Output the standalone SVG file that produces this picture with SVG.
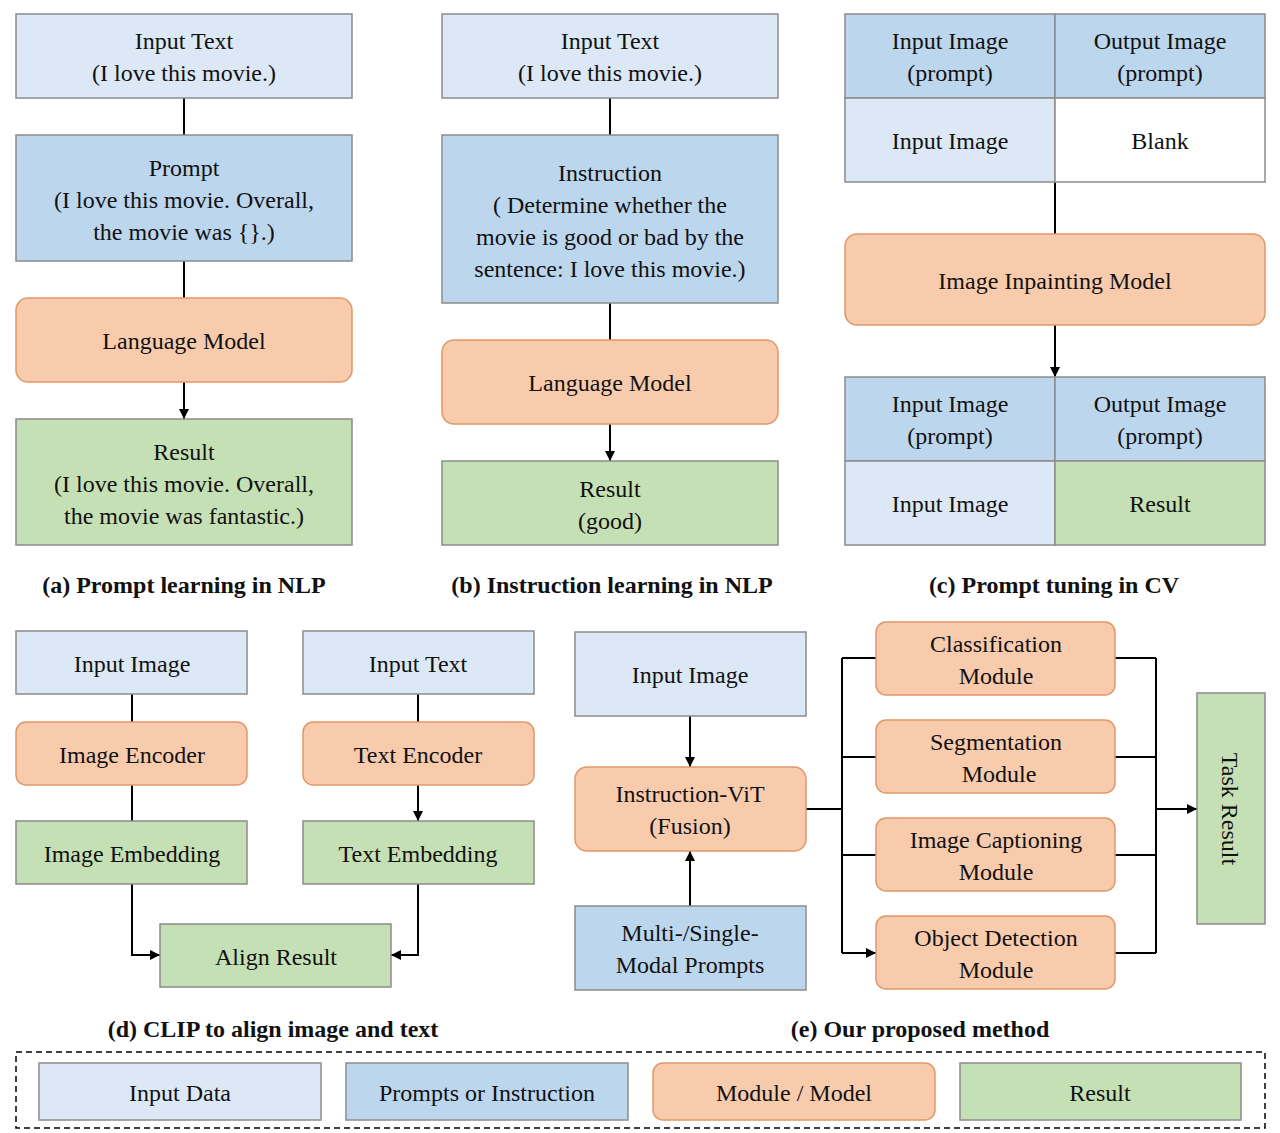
<svg xmlns="http://www.w3.org/2000/svg" width="1280" height="1133" viewBox="0 0 1280 1133">
<defs>
<style>
text{font-family:"Liberation Serif","Times New Roman",serif;font-size:24px;fill:#111;text-anchor:middle}
.cap{font-weight:bold;font-size:24px}
.in{fill:#dce8f5;stroke:#8c8c8c;stroke-width:1.5}
.pr{fill:#bcd6ee;stroke:#8c8c8c;stroke-width:1.5}
.md{fill:#f8cbad;stroke:#e0986a;stroke-width:1.5}
.rs{fill:#c5e0b4;stroke:#8c8c8c;stroke-width:1.5}
.wh{fill:#fff;stroke:#8c8c8c;stroke-width:1.5}
.ln{fill:none;stroke:#000;stroke-width:2}
</style>
<marker id="ar" viewBox="0 0 10 10" refX="10" refY="5" markerWidth="5" markerHeight="5" orient="auto"><path d="M0,0L10,5L0,10z" fill="#000"/></marker>
</defs>
<rect width="1280" height="1133" fill="#fff"/>
<g id="connectors">
<path class="ln" marker-end="url(#ar)" d="M184,98V135M184,261V298M184,382V419"/>
<path class="ln" marker-end="url(#ar)" d="M610,98V135M610,303V340M610,424V461"/>
<path class="ln" marker-end="url(#ar)" d="M1055,182V234M1055,325V377"/>
<path class="ln" marker-end="url(#ar)" d="M132,694V722M132,785V821M418,694V722M418,785V821"/>
<path class="ln" marker-end="url(#ar)" d="M132,884V955H160"/>
<path class="ln" marker-end="url(#ar)" d="M418,884V955H391"/>
<path class="ln" marker-end="url(#ar)" d="M690,716V767"/>
<path class="ln" marker-end="url(#ar)" d="M690,906V851"/>
<path class="ln" d="M806,809H842M842,658V953"/>
<path class="ln" marker-end="url(#ar)" d="M842,658H876M842,757H876M842,855H876M842,953H876"/>
<path class="ln" d="M1115,658H1156M1115,757H1156M1115,855H1156M1115,953H1156M1156,658V953"/>
<path class="ln" marker-end="url(#ar)" d="M1156,809H1197"/>
</g>
<g id="a">
<rect class="in" x="16" y="14" width="336" height="84"/><text x="184" y="49">Input Text</text><text x="184" y="81">(I love this movie.)</text>
<rect class="pr" x="16" y="135" width="336" height="126"/><text x="184" y="176">Prompt</text><text x="184" y="208">(I love this movie. Overall,</text><text x="184" y="240">the movie was {}.)</text>
<rect class="md" x="16" y="298" width="336" height="84" rx="12"/><text x="184" y="349">Language Model</text>
<rect class="rs" x="16" y="419" width="336" height="126"/><text x="184" y="460">Result</text><text x="184" y="492">(I love this movie. Overall,</text><text x="184" y="524">the movie was fantastic.)</text>
<text class="cap" x="184" y="593">(a) Prompt learning in NLP</text>
</g>
<g id="b">
<rect class="in" x="442" y="14" width="336" height="84"/><text x="610" y="49">Input Text</text><text x="610" y="81">(I love this movie.)</text>
<rect class="pr" x="442" y="135" width="336" height="168"/><text x="610" y="181">Instruction</text><text x="610" y="213">( Determine whether the</text><text x="610" y="245">movie is good or bad by the</text><text x="610" y="277">sentence: I love this movie.)</text>
<rect class="md" x="442" y="340" width="336" height="84" rx="12"/><text x="610" y="391">Language Model</text>
<rect class="rs" x="442" y="461" width="336" height="84"/><text x="610" y="497">Result</text><text x="610" y="529">(good)</text>
<text class="cap" x="612" y="593">(b) Instruction learning in NLP</text>
</g>
<g id="c">
<rect class="pr" x="845" y="14" width="210" height="84"/><rect class="pr" x="1055" y="14" width="210" height="84"/>
<rect class="in" x="845" y="98" width="210" height="84"/><rect class="wh" x="1055" y="98" width="210" height="84"/>
<text x="950" y="49">Input Image</text><text x="950" y="81">(prompt)</text><text x="1160" y="49">Output Image</text><text x="1160" y="81">(prompt)</text>
<text x="950" y="149">Input Image</text><text x="1160" y="149">Blank</text>
<rect class="md" x="845" y="234" width="420" height="91" rx="12"/><text x="1055" y="289">Image Inpainting Model</text>
<rect class="pr" x="845" y="377" width="210" height="84"/><rect class="pr" x="1055" y="377" width="210" height="84"/>
<rect class="in" x="845" y="461" width="210" height="84"/><rect class="rs" x="1055" y="461" width="210" height="84"/>
<text x="950" y="412">Input Image</text><text x="950" y="444">(prompt)</text><text x="1160" y="412">Output Image</text><text x="1160" y="444">(prompt)</text>
<text x="950" y="512">Input Image</text><text x="1160" y="512">Result</text>
<text class="cap" x="1054" y="593">(c) Prompt tuning in CV</text>
</g>
<g id="d">
<rect class="in" x="16" y="631" width="231" height="63"/><text x="132" y="672">Input Image</text>
<rect class="in" x="303" y="631" width="231" height="63"/><text x="418" y="672">Input Text</text>
<rect class="md" x="16" y="722" width="231" height="63" rx="10"/><text x="132" y="763">Image Encoder</text>
<rect class="md" x="303" y="722" width="231" height="63" rx="10"/><text x="418" y="763">Text Encoder</text>
<rect class="rs" x="16" y="821" width="231" height="63"/><text x="132" y="862">Image Embedding</text>
<rect class="rs" x="303" y="821" width="231" height="63"/><text x="418" y="862">Text Embedding</text>
<rect class="rs" x="160" y="924" width="231" height="63"/><text x="276" y="965">Align Result</text>
<text class="cap" x="273" y="1037">(d) CLIP to align image and text</text>
</g>
<g id="e">
<rect class="in" x="575" y="632" width="231" height="84"/><text x="690" y="683">Input Image</text>
<rect class="md" x="575" y="767" width="231" height="84" rx="12"/><text x="690" y="802">Instruction-ViT</text><text x="690" y="834">(Fusion)</text>
<rect class="pr" x="575" y="906" width="231" height="84"/><text x="690" y="941">Multi-/Single-</text><text x="690" y="973">Modal Prompts</text>
<rect class="md" x="876" y="622" width="239" height="73" rx="10"/><text x="996" y="652">Classification</text><text x="996" y="684">Module</text>
<rect class="md" x="876" y="720" width="239" height="73" rx="10"/><text x="996" y="750">Segmentation</text><text x="999" y="782">Module</text>
<rect class="md" x="876" y="818" width="239" height="73" rx="10"/><text x="996" y="848">Image Captioning</text><text x="996" y="880">Module</text>
<rect class="md" x="876" y="916" width="239" height="73" rx="10"/><text x="996" y="946">Object Detection</text><text x="996" y="978">Module</text>
<rect class="rs" x="1197" y="693" width="68" height="231"/><text transform="translate(1222,809) rotate(90)" x="0" y="0">Task Result</text>
<text class="cap" x="920" y="1037">(e) Our proposed method</text>
</g>
<g id="legend">
<rect x="16" y="1052" width="1249" height="76" fill="none" stroke="#000" stroke-width="1.5" stroke-dasharray="6,4"/>
<rect class="in" x="39" y="1063" width="282" height="57"/><text x="180" y="1101">Input Data</text>
<rect class="pr" x="346" y="1063" width="282" height="57"/><text x="487" y="1101">Prompts or Instruction</text>
<rect class="md" x="653" y="1063" width="282" height="57" rx="10"/><text x="794" y="1101">Module / Model</text>
<rect class="rs" x="960" y="1063" width="281" height="57"/><text x="1100" y="1101">Result</text>
</g>
</svg>
